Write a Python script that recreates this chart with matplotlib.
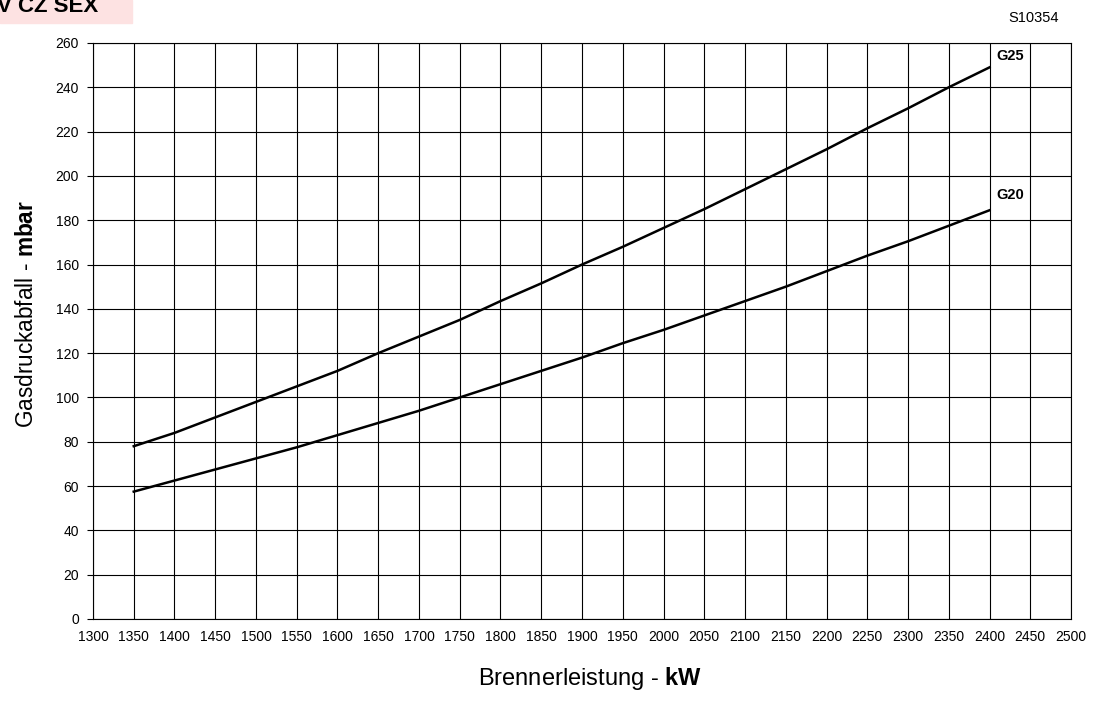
import numpy as np
import matplotlib.pyplot as plt
from matplotlib.patches import Rectangle

plt.rcParams['font.family'] = ['Liberation Sans', 'DejaVu Sans']
plt.rcParams['mathtext.fontset'] = 'custom'
plt.rcParams['mathtext.rm'] = 'Liberation Sans'
plt.rcParams['mathtext.bf'] = 'Liberation Sans:bold'

# burner output (kW)
kw = [1350, 1400, 1450, 1500, 1550, 1600, 1650, 1700, 1750, 1800, 1850,
      1900, 1950, 2000, 2050, 2100, 2150, 2200, 2250, 2300, 2350, 2400]
# gas pressure drop (mbar)
g25 = [78, 84, 91, 98, 105, 112, 120, 127.5, 135, 143.5, 151.5,
       160, 168, 176.5, 185, 194, 203, 212, 221.5, 230.5, 240, 249]
g20 = [57.5, 62.5, 67.5, 72.5, 77.5, 83, 88.5, 94, 100, 106, 112,
       118, 124.5, 130.5, 137, 143.5, 150, 157, 164, 170.5, 177.5, 184.5]

x_ticks = list(range(1300, 2501, 50))
y_ticks = list(range(0, 261, 20))

fig = plt.figure(figsize=(10.94, 7.01), dpi=100)
ax = fig.add_axes([93 / 1094, 1 - 619 / 701, 978 / 1094, 576 / 701])

ax.plot(kw, g25, color="black", lw=1.8)
ax.plot(kw, g20, color="black", lw=1.8)
ax.text(2409, g25[-1] + 5, "G25", fontsize=10.5, fontweight="bold", va="center")
ax.text(2409, g20[-1] + 7, "G20", fontsize=10.5, fontweight="bold", va="center")

ax.set_xlim(1300, 2500)
ax.set_ylim(0, 260)
ax.set_xticks(x_ticks)
ax.set_yticks(y_ticks)
ax.tick_params(labelsize=10, color="black")
ax.tick_params(axis="y", length=4, width=0.8, pad=6)
ax.tick_params(axis="x", length=0, pad=8)
ax.grid(True, color="black", lw=0.8)
for s in ax.spines.values():
    s.set_linewidth(0.8)

ax.set_xlabel("Brennerleistung - " + r"$\mathbf{kW}$", fontsize=17)
ax.set_ylabel("Gasdruckabfall - " + r"$\mathbf{mbar}$", fontsize=16.3)
ax.xaxis.set_label_coords(0.5077, -0.08)
ax.yaxis.set_label_coords(-0.056, 0.53)

fig.patches.append(Rectangle((0, 1 - 23 / 701), 132 / 1094, 23 / 701,
                             transform=fig.transFigure, color="#fde2e2", zorder=0))
fig.text(-3 / 1094, 1 - 12 / 701, "V CZ SEX", fontsize=16, fontweight="bold",
         va="baseline", ha="left")
fig.text(1034 / 1094, 1 - 18 / 701, "S10354", fontsize=10.5, ha="center", va="center")

fig.savefig("out.png", dpi=100)
